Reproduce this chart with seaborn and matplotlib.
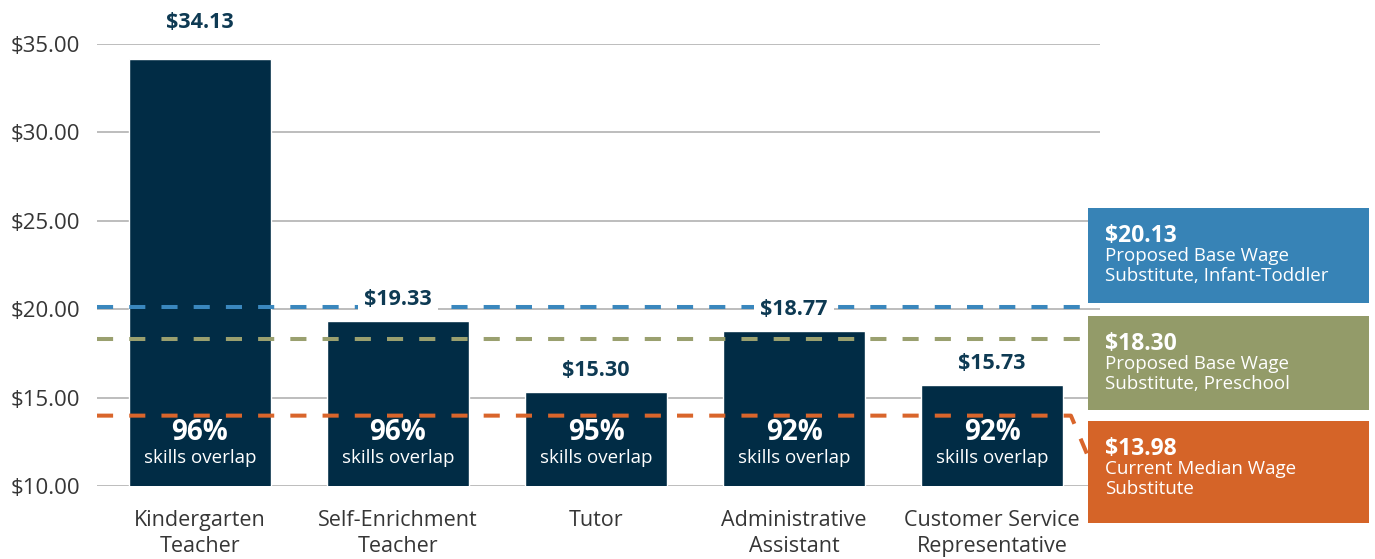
import matplotlib
matplotlib.use("Agg")
import matplotlib.pyplot as plt
import matplotlib.transforms as mtransforms
from matplotlib.patches import Rectangle
import seaborn as sns
import pandas as pd

# --- data -------------------------------------------------------------
occupations = ["Kindergarten\nTeacher", "Self-Enrichment\nTeacher", "Tutor",
               "Administrative\nAssistant", "Customer Service\nRepresentative"]
wages = [34.13, 19.33, 15.30, 18.77, 15.73]
skills_overlap = [96, 96, 95, 92, 92]

ref_values = [20.13, 18.30, 13.98]
ref_titles = ["Proposed Base Wage\nSubstitute, Infant-Toddler",
              "Proposed Base Wage\nSubstitute, Preschool",
              "Current Median Wage\nSubstitute"]

y_ticks = [10, 15, 20, 25, 30, 35]

# --- style ------------------------------------------------------------
BAR = "#012c45"
LABEL = "#0e3a53"
GREY_TXT = "#363636"
GRID = "#b8b8b8"
REF_LINE = ["#3a87bd", "#9aa06f", "#d9652b"]
REF_BOX = ["#3783b6", "#939b69", "#d56428"]

sns.set_theme(style="white")
plt.rcParams["font.family"] = ["Open Sans", "DejaVu Sans"]

W, H = 1375, 559
fig = plt.figure(figsize=(W / 100, H / 100), dpi=100)


def fx(px):
    return px / W


def fy(py):
    return 1 - py / H


ax = fig.add_axes([fx(97), fy(486), fx(1100) - fx(97), fy(44) - fy(486)])

df = pd.DataFrame({"occupation": occupations, "wage": wages})
sns.barplot(data=df, x="occupation", y="wage", color=BAR, saturation=1,
            width=0.72, ax=ax, zorder=2)

ax.set_xlim(-0.52, 4.545)
ax.set_ylim(10, 35)
ax.set_yticks(y_ticks)
ax.set_yticklabels([f"${t:.2f}" for t in y_ticks])
ax.yaxis.grid(True, color=GRID, lw=1.3)
ax.set_axisbelow(True)
for s in ax.spines.values():
    s.set_visible(False)
ax.set_xlabel("")
ax.set_ylabel("")
ax.tick_params(axis="y", length=0, pad=12, labelsize=16, labelcolor=GREY_TXT)
ax.tick_params(axis="x", length=0, pad=17, labelsize=15.5, labelcolor=GREY_TXT)
for lbl in ax.get_xticklabels():
    lbl.set_verticalalignment("top")
    lbl.set_linespacing(1.32)

# --- reference wage lines ---------------------------------------------
blend = mtransforms.blended_transform_factory(ax.transAxes, ax.transData)
dash = (0, (4, 4))
for k, (v, c) in enumerate(zip(ref_values, REF_LINE)):
    if k < 2:
        xs, ys = [0, 0.988], [v, v]
    else:
        xs, ys = [0, 0.971, 0.988], [v, v, v - 2.3]
    ax.plot(xs, ys, transform=blend, color=c, lw=2.9, ls=dash,
            zorder=3, clip_on=False, solid_capstyle="butt",
            dash_capstyle="butt")

# --- bar annotations --------------------------------------------------
top = ax.get_ylim()[1]
for i, (v, p) in enumerate(zip(wages, skills_overlap)):
    anchor = top if v > top - 1.5 else v
    ax.annotate(f"${v:.2f}", xy=(i, anchor), xytext=(0, 15.5),
                textcoords="offset points", ha="center", va="center",
                fontsize=15.5, fontweight="bold", color=LABEL, zorder=6,
                annotation_clip=False,
                bbox=dict(boxstyle="square,pad=0.3", fc="white", ec="none"))
    ax.text(i, 13.05, f"{p}%", ha="center", va="center", color="white",
            fontsize=20, fontweight="bold", zorder=6)
    ax.text(i, 11.6, "skills overlap", ha="center", va="center",
            color="white", fontsize=13.5, zorder=6)

# --- legend boxes on the right ----------------------------------------
boxes_px = [(208, 303), (316, 410), (421, 523)]
for (y0, y1), v, title, c in zip(boxes_px, ref_values, ref_titles, REF_BOX):
    fig.patches.append(Rectangle((fx(1088), fy(y1)), fx(1369) - fx(1088),
                                 fy(y0) - fy(y1), transform=fig.transFigure,
                                 facecolor=c, edgecolor="none", zorder=1))
    fig.text(fx(1105), fy(y0 + 28), f"${v:.2f}", ha="left", va="center",
             color="white", fontsize=16.5, fontweight="bold")
    fig.text(fx(1105), fy(y0 + 39), title, ha="left", va="top",
             color="white", fontsize=13.5, linespacing=1.12)

fig.savefig("out.png", dpi=100)
